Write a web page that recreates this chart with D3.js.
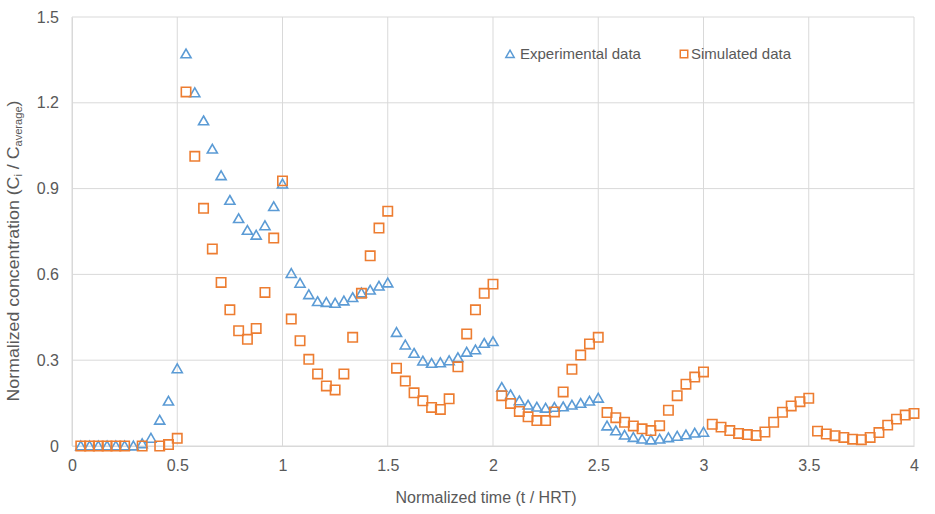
<!DOCTYPE html>
<html>
<head>
<meta charset="utf-8">
<script src="https://cdn.jsdelivr.net/npm/d3@7"></script>
<style>
  body { margin: 0; background: #fff; }
  text { font-family: "Liberation Sans", Arial, sans-serif; fill: #595959; }
</style>
</head>
<body>
<div id="chart"></div>
<script>
// time step is 1/24 of HRT, k = 1..96
var steps = d3.range(1, 97);

var experimental = [
  0, 0, 0, 0, 0, 0, 0, 0.008, 0.027, 0.09, 0.157, 0.27,
  1.371, 1.235, 1.137, 1.038, 0.945, 0.859, 0.795, 0.754, 0.737, 0.77, 0.837, 0.916,
  0.603, 0.569, 0.529, 0.505, 0.502, 0.499, 0.507, 0.519, 0.535, 0.545, 0.559, 0.57,
  0.397, 0.353, 0.324, 0.297, 0.289, 0.291, 0.298, 0.309, 0.328, 0.336, 0.359, 0.365,
  0.205, 0.179, 0.158, 0.143, 0.136, 0.132, 0.135, 0.137, 0.143, 0.149, 0.157, 0.167,
  0.07, 0.053, 0.038, 0.03, 0.024, 0.021, 0.024, 0.029, 0.034, 0.039, 0.045, 0.048
];

var simulated = [
  0, 0, 0, 0, 0, 0, null, 0, null, 0, 0.005, 0.027,
  1.238, 1.013, 0.831, 0.689, 0.572, 0.476, 0.403, 0.373, 0.411, 0.537, 0.727, 0.927,
  0.444, 0.368, 0.303, 0.252, 0.21, 0.196, 0.252, 0.38, 0.534, 0.665, 0.762, 0.821,
  0.272, 0.227, 0.186, 0.158, 0.135, 0.128, 0.165, 0.277, 0.392, 0.476, 0.534, 0.566,
  0.176, 0.149, 0.121, 0.102, 0.089, 0.089, 0.119, 0.189, 0.268, 0.318, 0.357, 0.38,
  0.117, 0.099, 0.083, 0.07, 0.06, 0.054, 0.071, 0.125, 0.176, 0.216, 0.241, 0.259,
  0.076, 0.066, 0.054, 0.044, 0.04, 0.037, 0.049, 0.083, 0.118, 0.14, 0.155, 0.167,
  0.052, 0.042, 0.036, 0.03, 0.024, 0.022, 0.03, 0.047, 0.073, 0.094, 0.108, 0.114
];

var xTicks = [0, 0.5, 1, 1.5, 2, 2.5, 3, 3.5, 4];
var yTicks = [0, 0.3, 0.6, 0.9, 1.2, 1.5];

var width = 935, height = 514;
var margin = { top: 17, right: 21, bottom: 68, left: 72 };

var svg = d3.select("#chart").append("svg")
  .attr("width", width)
  .attr("height", height);

var x = d3.scaleLinear().domain([0, 4]).range([margin.left, width - margin.right]);
var y = d3.scaleLinear().domain([0, 1.5]).range([height - margin.bottom, margin.top]);

// gridlines
svg.append("g").selectAll("line.h")
  .data(yTicks).enter().append("line")
  .attr("x1", x(0)).attr("x2", x(4))
  .attr("y1", d => y(d)).attr("y2", d => y(d))
  .attr("stroke", "#d9d9d9").attr("stroke-width", 1);

svg.append("g").selectAll("line.v")
  .data(xTicks).enter().append("line")
  .attr("y1", y(0)).attr("y2", y(1.5))
  .attr("x1", d => x(d)).attr("x2", d => x(d))
  .attr("stroke", "#d9d9d9").attr("stroke-width", 1);

// axes (labels only, lines come from the grid)
var xAxis = svg.append("g")
  .attr("transform", "translate(0," + y(0) + ")")
  .call(d3.axisBottom(x).tickValues(xTicks).tickSize(0).tickPadding(14).tickFormat(d3.format("~g")));
xAxis.select(".domain").attr("stroke", "#d9d9d9");
xAxis.selectAll("text").style("font-size", "16px").attr("fill", "#595959");

var yAxis = svg.append("g")
  .attr("transform", "translate(" + x(0) + ",0)")
  .call(d3.axisLeft(y).tickValues(yTicks).tickSize(0).tickPadding(13).tickFormat(d3.format("~g")));
yAxis.select(".domain").attr("stroke", "#d9d9d9");
yAxis.selectAll("text").style("font-size", "16px").attr("fill", "#595959");

// axis titles
svg.append("text")
  .attr("x", 486)
  .attr("y", 503)
  .attr("text-anchor", "middle")
  .style("font-size", "16px")
  .text("Normalized time (t / HRT)");

var yt = svg.append("text")
  .attr("transform", "translate(19,251) rotate(-90) scale(1.11,1)")
  .attr("text-anchor", "middle")
  .style("font-size", "16px");
yt.append("tspan").text("Normalized concentration (C");
yt.append("tspan").attr("dy", 3).style("font-size", "10px").text("i");
yt.append("tspan").attr("dy", -3).text(" / C");
yt.append("tspan").attr("dy", 3).style("font-size", "10px").text("average");
yt.append("tspan").attr("dy", -3).text(")");

var blue = "#5b9bd5", orange = "#ed7d31";
var tri = d3.symbol().type(d3.symbolTriangle).size(44);
var sq = d3.symbol().type(d3.symbolSquare).size(88);

var expPts = experimental.map((v, i) => ({ t: steps[i] / 24, v: v }));
var simPts = simulated.map((v, i) => ({ t: steps[i] / 24, v: v })).filter(d => d.v !== null);

svg.append("g").selectAll("path")
  .data(expPts).enter().append("path")
  .attr("d", tri)
  .attr("transform", d => "translate(" + x(d.t) + "," + (y(d.v) + 1) + ")")
  .attr("fill", "none").attr("stroke", blue).attr("stroke-width", 1.6);

svg.append("g").selectAll("path")
  .data(simPts).enter().append("path")
  .attr("d", sq)
  .attr("transform", d => "translate(" + x(d.t) + "," + y(d.v) + ")")
  .attr("fill", "none").attr("stroke", orange).attr("stroke-width", 1.6);

// legend
var leg = svg.append("g");
leg.append("path").attr("d", d3.symbol().type(d3.symbolTriangle).size(30))
  .attr("transform", "translate(510,55)")
  .attr("fill", "none").attr("stroke", blue).attr("stroke-width", 1.5);
leg.append("text").attr("x", 520).attr("y", 59).style("font-size", "15px").text("Experimental data");
leg.append("path").attr("d", d3.symbol().type(d3.symbolSquare).size(56))
  .attr("transform", "translate(684,54)")
  .attr("fill", "none").attr("stroke", orange).attr("stroke-width", 1.5);
leg.append("text").attr("x", 691).attr("y", 59).style("font-size", "15px").text("Simulated data");
</script>
</body>
</html>
